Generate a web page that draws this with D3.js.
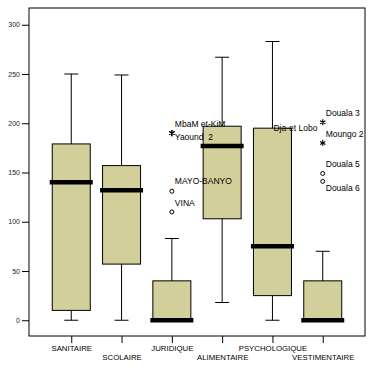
<!DOCTYPE html>
<html>
<head>
<meta charset="utf-8">
<script src="https://cdn.jsdelivr.net/npm/d3@7"></script>
<style>
  body { margin: 0; background: #fff; }
  text { font-family: "Liberation Sans", Arial, sans-serif; }
</style>
</head>
<body>
<svg width="374" height="374"></svg>
<script>
// categories and box stats
var categories = ['SANITAIRE', 'SCOLAIRE', 'JURIDIQUE', 'ALIMENTAIRE', 'PSYCHOLOGIQUE', 'VESTIMENTAIRE']
var mins    = [0, 0, 0, 18, 0, 0]
var q1s     = [10, 57, 0, 103, 25, 0]
var medians = [140, 132, 0, 177, 75, 0]
var q3s     = [179, 157, 40, 197, 195, 40]
var maxs    = [250, 249, 83, 267, 283, 70]

// outliers: category, value, kind ('o' = outlier, '*' = extreme), label
var outCat   = ['JURIDIQUE', 'JURIDIQUE', 'JURIDIQUE', 'JURIDIQUE', 'VESTIMENTAIRE', 'VESTIMENTAIRE', 'VESTIMENTAIRE', 'VESTIMENTAIRE']
var outVal   = [190, 190, 131, 110, 201, 180, 149, 141]
var outKind  = ['*', '*', 'o', 'o', '*', '*', 'o', 'o']
var outLabel = ['MbaM et-KiM', 'Yaound  2', 'MAYO-BANYO', 'VINA', 'Douala 3', 'Moungo 2', 'Douala 5', 'Douala 6']
var labelDy  = [-6, 7, -7, -6, -6, -6, -6, 10]

// label without a visible marker at the psychologique box top
var boxLabel = { cat: 'PSYCHOLOGIQUE', value: 195, text: 'Dja-et Lobo' }

var yTicks = [0, 50, 100, 150, 200, 250, 300]

var svg = d3.select('svg')
var pLeft = 29, pRight = 365, pTop = 8, pBottom = 336

var y = d3.scaleLinear()
    .domain([-16, 317])
    .range([pBottom, pTop])

var x = d3.scalePoint()
    .domain(categories)
    .range([pLeft, pRight])
    .padding(0.84)

var fill = '#D3CF9A'
var boxW = 38, capW = 14, medW = 43

// frame
svg.append('rect')
    .attr('x', pLeft)
    .attr('y', pTop)
    .attr('width', pRight - pLeft)
    .attr('height', pBottom - pTop)
    .attr('fill', 'none')
    .attr('stroke', '#000')
    .attr('stroke-width', 1)

// y axis
var yAxis = svg.append('g')
    .attr('transform', 'translate(' + pLeft + ',0)')
    .call(d3.axisLeft(y).tickValues(yTicks).tickSize(7).tickPadding(2))
yAxis.select('.domain').remove()
yAxis.selectAll('line').attr('stroke', '#000')
yAxis.selectAll('text')
    .style('font-size', '7px')
    .attr('fill', '#222')
    .style('font-family', '"Liberation Sans", Arial, sans-serif')

// x axis
var xAxis = svg.append('g')
    .attr('transform', 'translate(0,' + pBottom + ')')
    .call(d3.axisBottom(x).tickSize(7).tickPadding(2))
xAxis.select('.domain').remove()
xAxis.selectAll('line').attr('stroke', '#000')
xAxis.selectAll('text')
    .style('font-size', '7.8px')
    .attr('fill', '#000')
    .style('font-family', '"Liberation Sans", Arial, sans-serif')
    .attr('dy', (d, i) => i % 2 === 0 ? '0.71em' : '1.9em')

// boxes
var g = svg.append('g')
var boxes = g.selectAll('g.box')
    .data(categories)
    .enter()
    .append('g')
    .attr('class', 'box')

// whiskers
boxes.append('line')
    .attr('x1', d => x(d))
    .attr('x2', d => x(d))
    .attr('y1', (d, i) => y(maxs[i]))
    .attr('y2', (d, i) => y(mins[i]))
    .attr('stroke', '#000')
    .attr('stroke-width', 1)

boxes.append('line')
    .attr('x1', d => x(d) - capW / 2)
    .attr('x2', d => x(d) + capW / 2)
    .attr('y1', (d, i) => y(maxs[i]))
    .attr('y2', (d, i) => y(maxs[i]))
    .attr('stroke', '#000')

boxes.append('line')
    .attr('x1', d => x(d) - capW / 2)
    .attr('x2', d => x(d) + capW / 2)
    .attr('y1', (d, i) => y(mins[i]))
    .attr('y2', (d, i) => y(mins[i]))
    .attr('stroke', '#000')

boxes.append('rect')
    .attr('x', d => x(d) - boxW / 2)
    .attr('y', (d, i) => y(q3s[i]))
    .attr('width', boxW)
    .attr('height', (d, i) => y(q1s[i]) - y(q3s[i]))
    .attr('fill', fill)
    .attr('stroke', '#000')
    .attr('stroke-width', 1)

boxes.append('line')
    .attr('x1', d => x(d) - medW / 2)
    .attr('x2', d => x(d) + medW / 2)
    .attr('y1', (d, i) => y(medians[i]))
    .attr('y2', (d, i) => y(medians[i]))
    .attr('stroke', '#000')
    .attr('stroke-width', 4.5)

// outliers
var outs = outVal.map((v, i) => ({ cat: outCat[i], value: v, kind: outKind[i], label: outLabel[i], dy: labelDy[i] }))

var pts = svg.append('g').selectAll('g')
    .data(outs)
    .enter()
    .append('g')
    .attr('transform', d => 'translate(' + x(d.cat) + ',' + y(d.value) + ')')

pts.filter(d => d.kind === 'o')
    .append('circle')
    .attr('r', 2)
    .attr('fill', '#fff')
    .attr('stroke', '#000')
    .attr('stroke-width', 1)

pts.filter(d => d.kind === '*')
    .append('path')
    .attr('d', d3.symbol(d3.symbolAsterisk, 26))
    .attr('fill', 'none')
    .attr('stroke', '#000')
    .attr('stroke-width', 1.1)

pts.append('text')
    .text(d => d.label)
    .attr('x', 3)
    .attr('y', d => d.dy)
    .style('font-size', '8.5px')
    .style('white-space', 'pre')
    .attr('fill', '#000')

svg.append('text')
    .text(boxLabel.text)
    .attr('x', x(boxLabel.cat) + 1)
    .attr('y', y(boxLabel.value) + 3)
    .style('font-size', '8.5px')
    .attr('fill', '#000')
</script>
</body>
</html>
